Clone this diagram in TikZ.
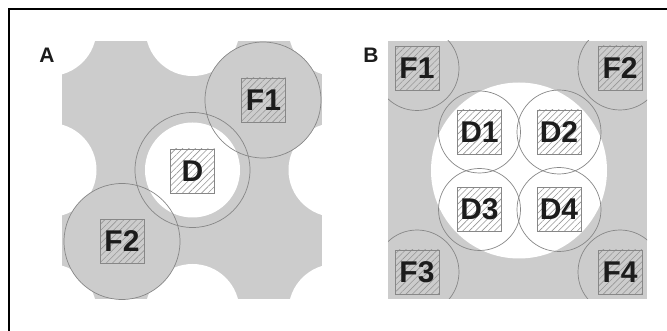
\documentclass[tikz,border=0pt]{standalone}
\usepackage{fontspec}
\setmainfont{Liberation Sans}
\usetikzlibrary{patterns.meta}
\definecolor{bg}{RGB}{204,204,204}
\definecolor{ln}{RGB}{135,135,135}
\definecolor{hatchc}{RGB}{150,150,150}
\definecolor{txt}{RGB}{28,28,28}
\begin{document}
\begin{tikzpicture}[x=1pt,y=-1pt,
  hbox/.style={draw=ln, line width=0.6pt, minimum size=44pt, inner sep=0pt,
    pattern={Lines[angle=45,distance=4.5pt,line width=0.6pt]}, pattern color=hatchc,
    font=\fontsize{30}{30}\selectfont\bfseries, text=txt},
  wbox/.style={hbox, preaction={fill=white}},
  gbox/.style={hbox, preaction={fill=bg}},
  ring/.style={draw=ln, line width=0.7pt},
  panel/.style={font=\fontsize{21}{21}\selectfont\bfseries, text=txt}]
\useasboundingbox (0,0) rectangle (667,331);
\fill[white] (0,0) rectangle (667,331);
\draw[line width=1.4pt] (9,345) -- (9,9) -- (680,9);
% ---------- panel A ----------
\begin{scope}
  \clip (62,41) rectangle (322,299);
  \fill[bg] (62,41) rectangle (322,299);
  \foreach \i in {-1,0,1}{\foreach \j in {-1,0,1}{
    \fill[white] (192.5+143*\i,170+141*\j) circle[radius=47];}}
  \fill[bg] (263,100) circle[radius=58];
  \fill[bg] (122,241.5) circle[radius=58];
  \fill[white] (192.5,170) circle[radius=47.5];
\end{scope}
\draw[ring] (192.5,170) circle[radius=57.5];
\draw[ring] (263,100) circle[radius=58];
\draw[ring] (122,241.5) circle[radius=58];
\node[wbox] (D) at (192.5,171) {D};
\node[gbox] (F1a) at (263.5,100) {F1};
\node[gbox] (F2a) at (122,241.5) {F2};
\node[panel] (lA) at (47,55) {A};
% ---------- panel B ----------
\fill[bg] (388,41) rectangle (647,299);
\fill[white] (519,170.5) circle[radius=88];
\begin{scope}
  \clip (388,41) rectangle (647,299);
  \draw[ring] (417,68.5) circle[radius=42];
  \draw[ring] (620,68) circle[radius=42];
  \draw[ring] (417,272) circle[radius=42];
  \draw[ring] (620,272) circle[radius=42];
\end{scope}
\draw[ring] (479.5,132) circle[radius=41];
\draw[ring] (559,132) circle[radius=42];
\draw[ring] (479.5,209.5) circle[radius=41];
\draw[ring] (559,209.5) circle[radius=42];
\node[wbox] (D1) at (479.5,132) {D1};
\node[wbox] (D2) at (559,132) {D2};
\node[wbox] (D3) at (479.5,209.5) {D3};
\node[wbox] (D4) at (559,209.5) {D4};
\node[gbox] (F1b) at (417,68.5) {F1};
\node[gbox] (F2b) at (620,68) {F2};
\node[gbox] (F3b) at (417,272) {F3};
\node[gbox] (F4b) at (620,272) {F4};
\node[panel] (lB) at (371,55) {B};
\end{tikzpicture}
\end{document}
